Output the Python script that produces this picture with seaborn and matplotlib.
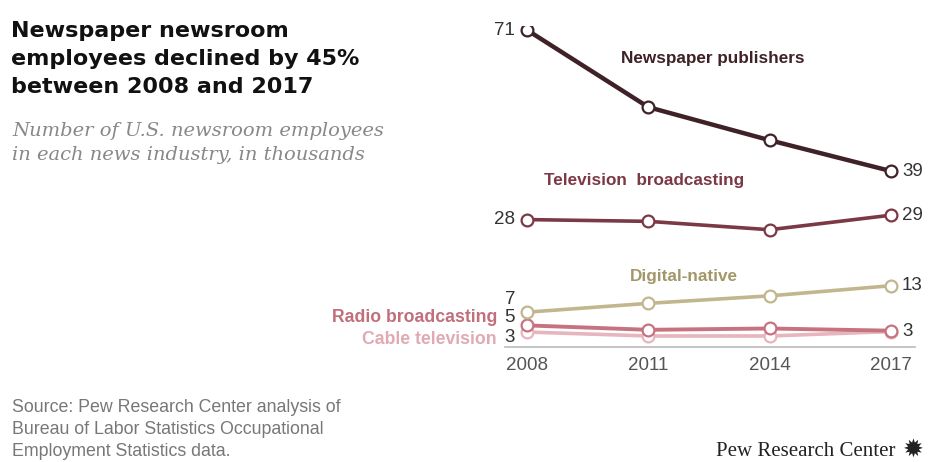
import matplotlib
matplotlib.use("Agg")
import matplotlib.pyplot as plt
import seaborn as sns
import pandas as pd

# ---- data ----
years = [2008, 2011, 2014, 2017]
newspaper = [71, 53.5, 46, 39]
television = [28, 27.6, 25.7, 29]
digital = [7, 9, 10.7, 13]
radio = [4.0, 3.0, 3.3, 2.8]
cable = [2.5, 1.6, 1.6, 2.6]
series_names = ["Newspaper publishers", "Television  broadcasting", "Digital-native",
                "Radio broadcasting", "Cable television"]
start_labels = ["71", "28", "7", "5", "3"]
end_labels = ["39", "29", "13", "", "3"]
tick_labels = ["2008", "2011", "2014", "2017"]

colors = ["#3e2227", "#7a3945", "#c2b68e", "#c7737f", "#e6b5bd"]
text_colors = ["#3e2227", "#7a3945", "#a3976a", "#c26f7c", "#e0aab3"]

sns.set_theme(style="white")
plt.rcParams["font.family"] = ["Liberation Sans", "DejaVu Sans"]

fig = plt.figure(figsize=(9.35, 4.62), dpi=100)
ax = fig.add_axes([505 / 935, (462 - 347) / 462, 410 / 935, (347 - 25.6) / 462])

values = [newspaper, television, digital, radio, cable]
df = pd.DataFrame({
    "year": years * 5,
    "value": sum(values, []),
    "series": sum([[n] * 4 for n in series_names], []),
})

order = [4, 3, 2, 1, 0]
widths = [3.2, 2.6, 2.6, 2.8, 2.6]
for i in order:
    sub = df[df["series"] == series_names[i]]
    sns.lineplot(data=sub, x="year", y="value", ax=ax, color=colors[i],
                 linewidth=widths[i], marker="o", markersize=8.5,
                 markerfacecolor="white", markeredgecolor=colors[i],
                 markeredgewidth=1.6, legend=False, zorder=3 + (4 - i))

ax.set_xlim(2008 - 22 / 40.44, 2017 + 24 / 40.44)
ax.set_ylim(-0.9, 72)
ax.set_xticks(years)
ax.set_xticklabels(tick_labels, color="#555555", fontsize=13.5)
ax.tick_params(axis="x", length=0, pad=7)
ax.set_yticks([])
ax.set_xlabel("")
ax.set_ylabel("")
for s in ["top", "right", "left"]:
    ax.spines[s].set_visible(False)
ax.spines["bottom"].set_color("#bbbbbb")
ax.spines["bottom"].set_linewidth(1.2)
ax.patch.set_alpha(0)

VAL_FS = 13.5
for i in range(5):
    if start_labels[i] and i < 2:
        ax.annotate(start_labels[i], (years[0], values[i][0]), xytext=(-9, 0),
                    textcoords="offset points", ha="right", va="center",
                    fontsize=VAL_FS, color="#333333")
    if end_labels[i]:
        ax.annotate(end_labels[i], (years[-1], values[i][-1]), xytext=(8, 0),
                    textcoords="offset points", ha="left", va="center",
                    fontsize=VAL_FS, color="#333333")


def fy(py):
    return (462 - py) / 462


fig.text(515 / 935, fy(299), start_labels[2], ha="right", va="center", fontsize=VAL_FS, color="#333333")
fig.text(515 / 935, fy(318), start_labels[3], ha="right", va="center", fontsize=VAL_FS, color="#333333")
fig.text(515 / 935, fy(338), start_labels[4], ha="right", va="center", fontsize=VAL_FS, color="#333333")

LAB_FS = 12.3
fig.text(713 / 935, fy(58), series_names[0], ha="center", va="center", fontsize=LAB_FS,
         fontweight="bold", color=text_colors[0])
fig.text(644 / 935, fy(181), series_names[1], ha="center", va="center", fontsize=LAB_FS,
         fontweight="bold", color=text_colors[1])
fig.text(684 / 935, fy(277), series_names[2], ha="center", va="center", fontsize=LAB_FS,
         fontweight="bold", color=text_colors[2])
fig.text(497 / 935, fy(318), series_names[3], ha="right", va="center", fontsize=12.7,
         fontweight="bold", color=text_colors[3])
fig.text(497 / 935, fy(339), series_names[4], ha="right", va="center", fontsize=12.7,
         fontweight="bold", color=text_colors[4])

title_lines = ["Newspaper newsroom", "employees declined by 45%", "between 2008 and 2017"]
for k, t in enumerate(title_lines):
    fig.text(11 / 935, fy(31 + 28 * k), t, ha="left", va="center", fontsize=16,
             fontweight="bold", color="#111111", family=["DejaVu Sans"])
sub_lines = ["Number of U.S. newsroom employees", "in each news industry, in thousands"]
for k, t in enumerate(sub_lines):
    fig.text(12 / 935, fy(131 + 24 * k), t, ha="left", va="center", fontsize=14,
             style="italic", color="#888888", family=["DejaVu Serif"])

src_lines = ["Source: Pew Research Center analysis of",
             "Bureau of Labor Statistics Occupational",
             "Employment Statistics data."]
for k, t in enumerate(src_lines):
    fig.text(12 / 935, fy(408 + 22 * k), t, ha="left", va="center", fontsize=12.8,
             color="#777777", family=["Liberation Sans Narrow", "Liberation Sans", "DejaVu Sans"])

fig.text(896 / 935, fy(452), "Pew Research Center", ha="right", va="center", fontsize=15,
         color="#222222", family=["Liberation Serif", "DejaVu Serif"])
fig.text(903 / 935, fy(450), "\u2739", ha="left", va="center", fontsize=18,
         color="#222222", family=["DejaVu Sans"])

fig.savefig("out.png", dpi=100)
